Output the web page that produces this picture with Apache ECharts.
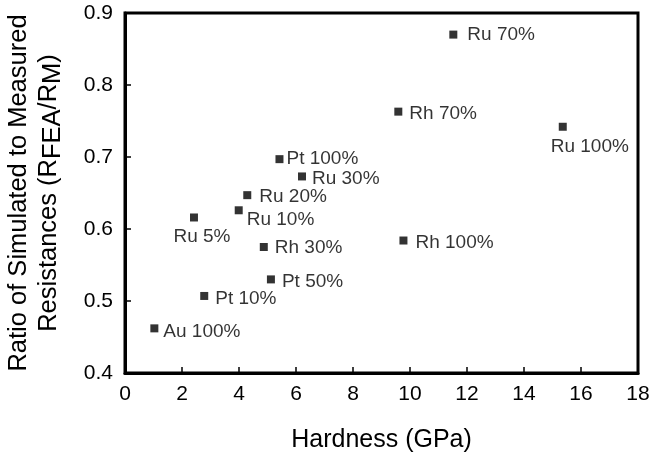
<!DOCTYPE html>
<html><head><meta charset="utf-8">
<script src="https://cdn.jsdelivr.net/npm/echarts@6/dist/echarts.min.js"></script>
<style>html,body{margin:0;padding:0;background:#fff}#c{width:650px;height:455px}</style>
</head><body><div id="c"></div>
<script>
// Data
const names    = ['Au 100%','Pt 10%','Ru 5%','Ru 10%','Ru 20%','Rh 30%','Pt 50%','Pt 100%','Ru 30%','Rh 70%','Rh 100%','Ru 70%','Ru 100%'];
const hardness = [1.03, 2.78, 2.42, 3.99, 4.29, 4.87, 5.12, 5.42, 6.21, 9.59, 9.77, 11.52, 15.36];
const ratio    = [0.462, 0.507, 0.616, 0.626, 0.647, 0.575, 0.530, 0.697, 0.673, 0.763, 0.584, 0.870, 0.742];
const xTicks   = [0, 2, 4, 6, 8, 10, 12, 14, 16, 18];
const yTicks   = [0.4, 0.5, 0.6, 0.7, 0.8, 0.9];

// Label placement (style only)
const labelPlace = {
  'Au 100%': {position:'right', distance:5, offset:[0,3]},
  'Pt 10%':  {position:'right', distance:7, offset:[0,3]},
  'Ru 5%':   {position:'inside', offset:[8,19]},
  'Ru 10%':  {position:'right', distance:4, offset:[0,9]},
  'Ru 20%':  {position:'right', distance:8, offset:[0,2]},
  'Rh 30%':  {position:'right', distance:7, offset:[0,1]},
  'Pt 50%':  {position:'right', distance:7, offset:[0,2]},
  'Pt 100%': {position:'right', distance:3, offset:[0,0]},
  'Ru 30%':  {position:'right', distance:6, offset:[0,2]},
  'Rh 70%':  {position:'right', distance:7, offset:[0,2]},
  'Rh 100%': {position:'right', distance:8, offset:[0,2]},
  'Ru 70%':  {position:'right', distance:10, offset:[0,0]},
  'Ru 100%': {position:'inside', offset:[27,20]}
};

const FONT = '"Liberation Sans", Arial, sans-serif';
const data = names.map((n, i) => ({
  name: n,
  value: [hardness[i], ratio[i]],
  label: Object.assign({show: true, formatter: n}, labelPlace[n])
}));

const chart = echarts.init(document.getElementById('c'), null, {renderer: 'canvas'});
chart.setOption({
  animation: false,
  backgroundColor: '#fff',
  textStyle: {fontFamily: FONT, color: '#000'},
  grid: {left: 125, right: 12, top: 13, bottom: 82, show: true, borderColor: '#000', borderWidth: 3, outerBoundsMode: 'none', containLabel: false},
  xAxis: {
    type: 'value', min: xTicks[0], max: xTicks[xTicks.length - 1], interval: xTicks[1] - xTicks[0],
    name: 'Hardness (GPa)', nameLocation: 'middle', nameGap: 55,
    nameTextStyle: {fontSize: 25, color: '#000', fontFamily: FONT},
    axisLine: {show: true, onZero: false, lineStyle: {color: '#000', width: 3}},
    axisTick: {show: true, inside: true, length: 6, lineStyle: {color: '#000', width: 1.5}},
    axisLabel: {fontSize: 21, color: '#000', margin: 11, fontFamily: FONT},
    splitLine: {show: false}
  },
  yAxis: {
    type: 'value', min: yTicks[0], max: yTicks[yTicks.length - 1], interval: 0.1,
    name: '{b|Ratio of Simulated to Measured}\n{b|Resistances (R}{s|FEA}{b|/R}{s|M}{b|)}',
    nameLocation: 'middle', nameGap: 61, nameRotate: 90,
    nameTextStyle: {fontSize: 25.5, color: '#000', fontFamily: FONT, lineHeight: 30,
      rich: {
        b: {fontSize: 25.5, fontFamily: FONT, color: '#000', lineHeight: 30, verticalAlign: 'middle'},
        s: {fontSize: 25.5, fontFamily: FONT, color: '#000', lineHeight: 30, verticalAlign: 'middle', padding: [7, 0, 0, 0]}
      }},
    axisLine: {show: true, onZero: false, lineStyle: {color: '#000', width: 3}},
    axisTick: {show: true, inside: true, length: 6, lineStyle: {color: '#000', width: 1.5}},
    axisLabel: {fontSize: 21, color: '#000', margin: 12, fontFamily: FONT, formatter: v => v.toFixed(1)},
    splitLine: {show: false}
  },
  series: [{
    type: 'scatter',
    symbol: 'rect',
    symbolSize: 8,
    itemStyle: {color: '#000'},
    label: {fontSize: 19, color: '#000', fontFamily: FONT},
    data: data
  }]
});
</script>
</body></html>
